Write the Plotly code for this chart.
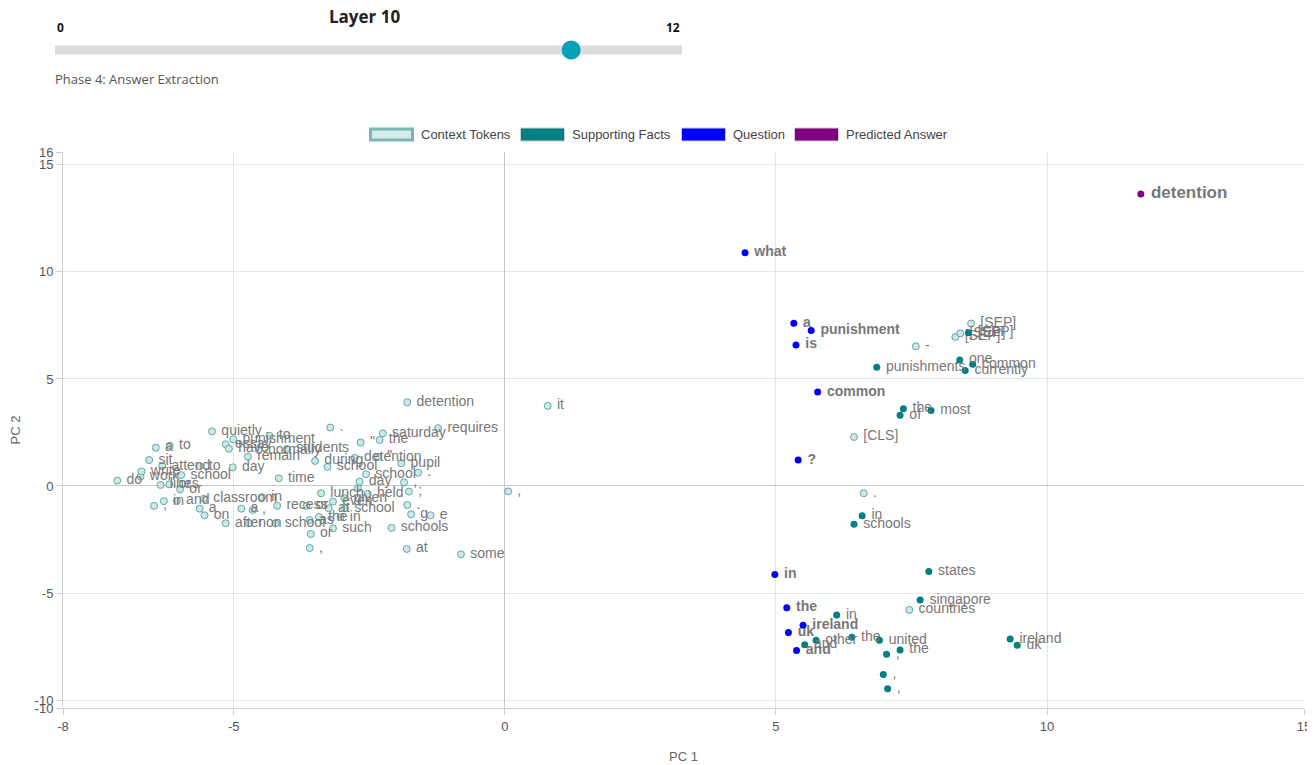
import plotly.graph_objects as go

# ---------------- data ----------------
layer_current = 10
layer_min = 0
layer_max = 12
phase_label = "Phase 4: Answer Extraction"

ctx_labels = ["do", "work", "write", "sit", "a", "to", "lines", "or", "or", "attend", "to", "school",
              ",", "in", "and", "classroom", "a", "on", "quietly", "essay", "punishment", "have", "day",
              "remain", "to", "normally", "students", "time", "a", ",", "in", "recess", "after", "non",
              "school", "or", "lunch", "or", ",", ".", "during", "school", "as", "the", "in", "such", "at",
              "school", "even", "given", ",", "held", "day", "school", "detention", "\"", "\"", "the",
              "saturday", "pupil", ".", ",", ";", ".", "g", "e", "schools", "at", "some", "detention",
              "requires", ",", "it", "[CLS]", "-", "[SEP]", "[SEP]", "[SEP]", ".", "countries"]
ctx_x = [-7.15, -6.72, -6.70, -6.56, -6.44, -6.18, -6.35, -6.19, -5.99, -6.32, -5.63, -5.97,
         -6.47, -6.29, -6.05, -5.55, -5.63, -5.54, -5.40, -5.15, -5.01, -5.09, -5.02,
         -4.74, -4.34, -4.54, -4.02, -4.17, -4.86, -4.65, -4.48, -4.20, -5.15, -4.72,
         -4.23, -3.66, -3.39, -3.58, -3.60, -3.22, -3.50, -3.27, -3.60, -3.43, -3.03, -3.17, -3.25,
         -2.95, -3.17, -2.96, -2.71, -2.53, -2.68, -2.56, -2.77, -2.34, -2.66, -2.31,
         -2.25, -1.91, -1.60, -1.86, -1.77, -1.80, -1.73, -1.37, -2.09, -1.81, -0.81, -1.80,
         -1.23, 0.06, 0.79, 6.44, 7.58, 8.31, 8.40, 8.60, 6.62, 7.46]
ctx_y = [0.25, 0.44, 0.68, 1.21, 1.79, 1.88, 0.05, 0.08, -0.15, 0.93, 0.93, 0.51,
         -0.93, -0.71, -0.69, -0.59, -1.06, -1.37, 2.55, 1.95, 2.18, 1.74, 0.87,
         1.37, 2.34, 1.68, 1.73, 0.36, -1.06, -1.12, -0.53, -0.92, -1.74, -1.74,
         -1.74, -0.93, -0.34, -2.24, -2.90, 2.73, 1.17, 0.89, -1.59, -1.45, -1.45, -1.98, -1.04,
         -1.04, -0.73, -0.57, -0.11, -0.37, 0.20, 0.55, 1.31, 1.36, 2.03, 2.15,
         2.46, 1.06, 0.62, 0.17, -0.26, -0.89, -1.32, -1.37, -1.96, -2.94, -3.19, 3.91,
         2.70, -0.25, 3.74, 2.29, 6.52, 6.96, 7.13, 7.59, -0.34, -5.79]

sup_labels = ["punishments", "one", "common", "currently", "the", "of", "most", "[SEP]", "in", "schools",
              "states", "singapore", "in", "other", "and", "the", "united", "the", ",", ",", ",",
              "ireland", "uk"]
sup_x = [6.86, 8.39, 8.63, 8.49, 7.35, 7.29, 7.86, 8.55, 6.59, 6.44,
         7.82, 7.66, 6.12, 5.74, 5.53, 6.40, 6.91, 7.29, 7.04, 6.98, 7.06,
         9.32, 9.45]
sup_y = [5.55, 5.89, 5.69, 5.39, 3.61, 3.30, 3.52, 7.16, -1.39, -1.79,
         -4.00, -5.33, -6.03, -7.20, -7.42, -7.07, -7.20, -7.66, -7.86, -8.80, -9.47,
         -7.15, -7.44]

q_labels = ["what", "a", "punishment", "is", "common", "?", "in", "the", "ireland", "uk", "and"]
q_x = [4.43, 5.33, 5.65, 5.37, 5.77, 5.41, 4.98, 5.20, 5.50, 5.23, 5.38]
q_y = [10.89, 7.60, 7.26, 6.59, 4.39, 1.21, -4.13, -5.69, -6.50, -6.84, -7.68]

ans_labels = ["detention"]
ans_x = [11.73]
ans_y = [13.64]

x_range = [-8.15, 14.74]
y_range = [-10.37, 15.6]
x_ticks = [-5, 0, 5, 10]
y_ticks = [-10, -5, 0, 5, 10, 15]

legend_names = ["Context Tokens", "Supporting Facts", "Question", "Predicted Answer"]

# ---------------- styles ----------------
TXT = "#777777"
FONT = "Liberation Sans, Arial, Helvetica, sans-serif"
C_CTX_FILL = "#cde8e5"
C_CTX_LINE = "#5fa8a5"
C_SUP = "#008080"
C_Q = "#0000ff"
C_ANS = "#800080"
NB = "\u00a0"


def lab(items, bold=False):
    if bold:
        return ["<b>%s%s</b>" % (NB, t) for t in items]
    return [NB + t for t in items]


fig = go.Figure()
fig.add_trace(go.Scatter(
    x=ctx_x, y=ctx_y, text=lab(ctx_labels), mode="markers+text", textposition="middle right",
    marker=dict(size=7, color=C_CTX_FILL, line=dict(color=C_CTX_LINE, width=1)),
    textfont=dict(family=FONT, size=14, color=TXT), name=legend_names[0], showlegend=False))
fig.add_trace(go.Scatter(
    x=sup_x, y=sup_y, text=lab(sup_labels), mode="markers+text", textposition="middle right",
    marker=dict(size=7, color=C_SUP),
    textfont=dict(family=FONT, size=14, color=TXT), name=legend_names[1], showlegend=False))
fig.add_trace(go.Scatter(
    x=q_x, y=q_y, text=lab(q_labels, True), mode="markers+text", textposition="middle right",
    marker=dict(size=7, color=C_Q),
    textfont=dict(family=FONT, size=14, color=TXT), name=legend_names[2], showlegend=False))
fig.add_trace(go.Scatter(
    x=ans_x, y=ans_y, text=lab(ans_labels, True), mode="markers+text", textposition="middle right",
    marker=dict(size=7, color=C_ANS),
    textfont=dict(family=FONT, size=17, color=TXT), name=legend_names[3], showlegend=False))

# ---------------- layout helpers ----------------
# The page body has a default 8px margin, so the figure is shrunk by that much
# and every page-pixel position is shifted to compensate.
OFF = 8
W, H = 1315 - OFF, 765 - OFF
L, R, T, B = 63 - OFF, 1304 - OFF, 152 - OFF, 708 - OFF


def px2x(px):
    return (px - OFF - L) / (R - L)


def py2y(py):
    return (B - (py - OFF)) / (B - T)


shapes = []
annotations = []

# slider (decorative)
rail_l, rail_r, rail_cy = 55, 682, 50
shapes.append(dict(type="rect", xref="paper", yref="paper", x0=px2x(rail_l), x1=px2x(rail_r),
                   y0=py2y(rail_cy + 4.5), y1=py2y(rail_cy - 4.5), fillcolor="#dcdcdc", line=dict(width=0)))
hr = 9.5
frac = (layer_current - layer_min) / (layer_max - layer_min)
hcx = rail_l + hr + frac * (rail_r - rail_l - 2 * hr)
shapes.append(dict(type="circle", xref="paper", yref="paper", x0=px2x(hcx - hr), x1=px2x(hcx + hr),
                   y0=py2y(rail_cy + hr), y1=py2y(rail_cy - hr), fillcolor="#06a0b8", line=dict(width=0)))
annotations.append(dict(text="<b>Layer %d</b>" % layer_current, x=px2x(364), y=py2y(17),
                        xref="paper", yref="paper", xanchor="center", yanchor="middle", showarrow=False,
                        font=dict(family="Open Sans, sans-serif", size=17, color="#222")))
annotations.append(dict(text="<b>%d</b>" % layer_min, x=px2x(rail_l), y=py2y(27), xref="paper", yref="paper",
                        xanchor="left", yanchor="middle", showarrow=False,
                        font=dict(family="Open Sans, sans-serif", size=12, color="#111")))
annotations.append(dict(text="<b>%d</b>" % layer_max, x=px2x(rail_r), y=py2y(27), xref="paper", yref="paper",
                        xanchor="right", yanchor="middle", showarrow=False,
                        font=dict(family="Open Sans, sans-serif", size=12, color="#111")))
annotations.append(dict(text=phase_label, x=px2x(rail_l - 2), y=py2y(79), xref="paper", yref="paper",
                        xanchor="left", yanchor="middle", showarrow=False,
                        font=dict(family="Open Sans, sans-serif", size=13, color="#555")))

# legend (drawn)
leg_x = [369, 520, 681, 794]
leg_fill = ["#d6ebe9", C_SUP, C_Q, C_ANS]
leg_line = ["#77b7b5", "#cfcfcf", "#cfcfcf", "#cfcfcf"]
leg_lw = [3, 1, 1, 1]
for i, name in enumerate(legend_names):
    x0 = leg_x[i]
    shapes.append(dict(type="rect", xref="paper", yref="paper", x0=px2x(x0 + leg_lw[i] / 2),
                       x1=px2x(x0 + 45 - leg_lw[i] / 2), y0=py2y(141.5 - leg_lw[i] / 2),
                       y1=py2y(127.5 + leg_lw[i] / 2),
                       fillcolor=leg_fill[i], line=dict(color=leg_line[i], width=leg_lw[i])))
    annotations.append(dict(text=name, x=px2x(x0 + 50), y=py2y(134.5), xref="paper", yref="paper",
                            xanchor="left", yanchor="middle", showarrow=False,
                            font=dict(family=FONT, size=13, color="#444")))

x_tv = [x_range[0]] + x_ticks + [x_range[1]]
x_tt = ["%d" % round(v) for v in x_tv]
y_tv = [y_range[0]] + y_ticks + [y_range[1]]
y_tt = ["%d" % round(v) for v in y_tv]

axis_common = dict(showgrid=True, gridcolor="#e6e6e6", gridwidth=1, zeroline=True, zerolinecolor="#c8c8c8",
                   zerolinewidth=1, showline=True, linecolor="#d0d0d0", linewidth=1, ticks="outside",
                   ticklen=6, tickcolor="#d0d0d0", tickfont=dict(family=FONT, size=13, color="#555"),
                   automargin=False)

fig.update_layout(
    width=W, height=H, autosize=False,
    margin=dict(l=L, r=W - R, t=T, b=H - B, pad=0, autoexpand=False),
    paper_bgcolor="white", plot_bgcolor="white",
    showlegend=False,
    xaxis=dict(range=x_range, tickmode="array", tickvals=x_tv, ticktext=x_tt,
               title=dict(text="PC 1", font=dict(family=FONT, size=13, color="#666"), standoff=19),
               **axis_common),
    yaxis=dict(range=y_range, tickmode="array", tickvals=y_tv, ticktext=y_tt,
               title=dict(text="PC 2", font=dict(family=FONT, size=13, color="#666"), standoff=14),
               **axis_common),
    shapes=shapes, annotations=annotations,
    font=dict(family=FONT),
)

fig.write_html("out.html")
